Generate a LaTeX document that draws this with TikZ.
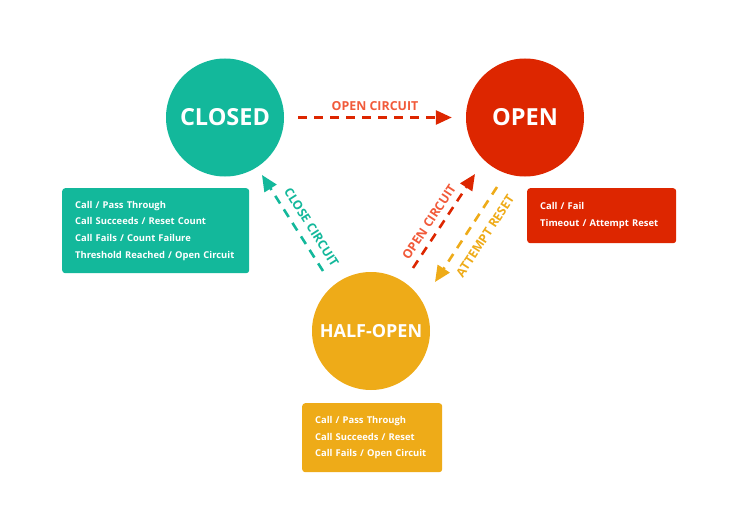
\documentclass[tikz,border=0pt]{standalone}
\usepackage{fontspec}
\setmainfont{Open Sans}
\usetikzlibrary{arrows.meta,positioning,calc}
\definecolor{cbgreen}{HTML}{13B89B}
\definecolor{cbred}{HTML}{DD2600}
\definecolor{cbyellow}{HTML}{EEAB18}
\definecolor{cblabel}{HTML}{F15A3A}

\begin{document}
\begin{tikzpicture}[x=1pt,y=-1pt,
state/.style={circle,fill=#1,minimum size=118pt,inner sep=0pt,text=white,font=\fontsize{23.5}{28}\selectfont\bfseries},
info/.style={fill=#1,rounded corners=3pt,anchor=north west,align=left,text=white,inner xsep=13pt,font=\fontsize{9.4}{16.7}\selectfont\bfseries},
arr/.style={-{Triangle[length=16pt,width=14pt]},line width=2.6pt,dash pattern=on 9pt off 7pt,draw=#1},
lbl/.style={font=\fontsize{12.4}{14}\selectfont\bfseries,text=#1,inner sep=2pt}]
\useasboundingbox (0,0) rectangle (750,519);
% states
\node[state=cbgreen](closed) at (225,117.5){CLOSED};
\node[state=cbred](open) at (525,117.5){OPEN};
\node[state=cbyellow,font=\fontsize{18}{22}\selectfont\bfseries](halfopen) at (371,331){HALF-OPEN};
% what happens in each state
\node[info=cbgreen,text width=161pt,minimum height=85pt](closedbox) at (62,188){Call / Pass Through\\Call Succeeds / Reset Count\\Call Fails / Count Failure\\Threshold Reached / Open Circuit};
\node[info=cbred,text width=123pt,minimum height=55pt](openbox) at (527,188){Call / Fail\\Timeout / Attempt Reset};
\node[info=cbyellow,text width=114pt,minimum height=69pt](halfbox) at (302,403){Call / Pass Through\\Call Succeeds / Reset\\Call Fails / Open Circuit};
% transitions
\coordinate (hc) at (323,271);\coordinate (ch) at (262,175);
\coordinate (ho) at (413,268);\coordinate (oh) at (475,174);
\coordinate (ar) at (497,187);\coordinate (ra) at (435,282);
\draw[arr=cbred,shorten <=14pt,shorten >=14pt](closed)--node[lbl=cblabel,above=4pt]{OPEN CIRCUIT}(open);
\draw[arr=cbgreen](hc)--node[lbl=cbgreen,sloped,above=6pt,pos=.38]{CLOSE CIRCUIT}(ch);
\draw[arr=cbred](ho)--node[lbl=cblabel,sloped,above=4pt,pos=.42]{OPEN CIRCUIT}(oh);
\draw[arr=cbyellow](ar)--node[lbl=cbyellow,sloped,below=9pt,pos=.42]{ATTEMPT RESET}(ra);
\end{tikzpicture}
\end{document}
